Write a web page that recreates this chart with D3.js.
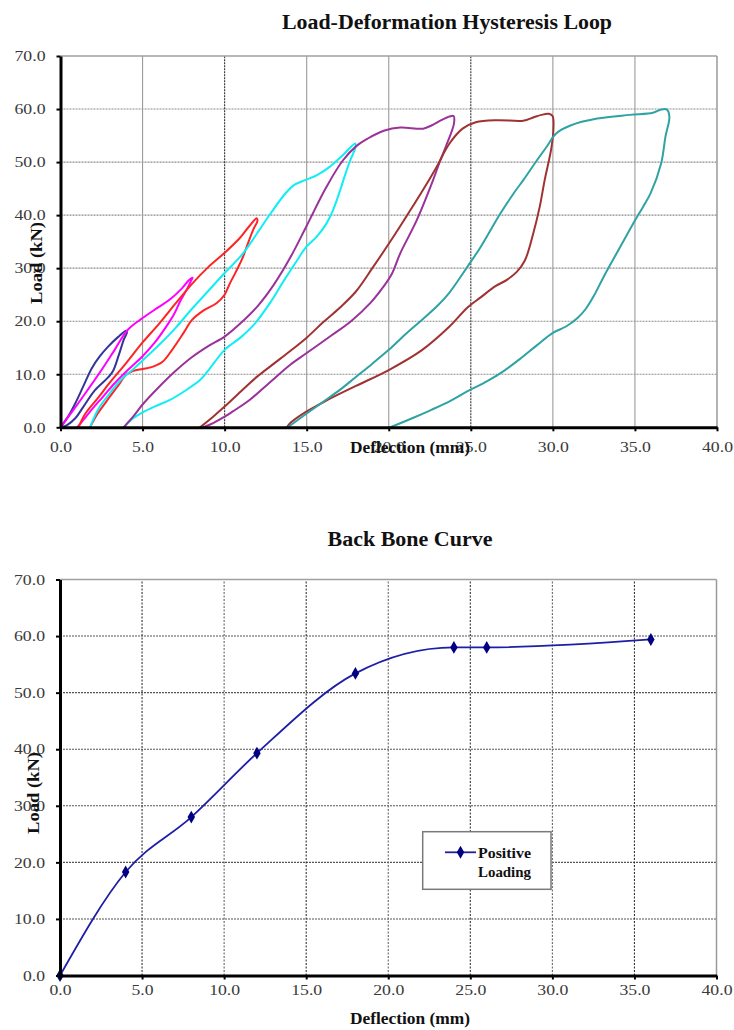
<!DOCTYPE html>
<html>
<head>
<meta charset="utf-8">
<script src="https://cdn.jsdelivr.net/npm/d3@7"></script>
<style>
  html, body { margin: 0; padding: 0; background: #ffffff; }
  svg { display: block; }
</style>
</head>
<body>
<script>
// ---------------- DATA ----------------
const xTicks = [0, 5, 10, 15, 20, 25, 30, 35, 40];
const yTicks = [0, 10, 20, 30, 40, 50, 60, 70];

const titleTop = "Load-Deformation Hysteresis Loop";
const titleBottom = "Back Bone Curve";
const xLabel = "Deflection (mm)";
const yLabel = "Load (kN)";
const legendLines = ["Positive", "Loading"];

// Hysteresis cycles: [deflection mm, load kN], loading branch then unloading branch
const cycle1 = [[0,0],[0.5,2.2],[0.9,4.5],[1.4,7.8],[1.9,11.1],[2.4,13.4],[2.9,15.2],[3.5,17.0],[4.0,18.2],
  [4.05,17.9],[3.85,16.5],[3.55,13.6],[3.2,10.6],[2.9,9.4],[2.1,7.0],[1.4,3.9],[0.9,1.7],[0.4,0.4],[0.05,0]];
const cycle2 = [[0,0],[0.7,2.9],[1.6,6.8],[2.5,10.8],[3.3,14.6],[4.1,18.4],[5.0,20.6],[6.0,22.7],[6.7,24.2],[7.4,26.2],[7.85,27.8],[8.05,28.2],
  [7.95,27.6],[7.7,26.0],[7.3,23.8],[6.9,21.2],[6.4,18.8],[5.8,16.2],[5.0,13.4],[4.1,10.8],[3.3,8.3],[2.6,5.8],[2.0,3.7],[1.5,1.8],[1.1,0.3],[1.0,0]];
const cycle3 = [[1.1,0],[1.5,2.5],[2.3,5.6],[3.0,8.4],[4.0,12.1],[5.0,16.0],[6.0,19.5],[7.0,23.3],[8.0,27.0],[9.0,30.2],[10.0,32.9],[10.9,35.6],[11.5,37.9],[11.95,39.4],
  [12.0,38.9],[11.75,37.3],[11.4,34.5],[11.1,32.0],[10.7,29.4],[10.3,27.0],[10.0,25.0],[9.5,23.4],[8.7,22.0],[8.0,20.2],[7.5,17.8],[6.8,14.6],[6.2,12.3],[5.5,11.3],[5.0,11.0],[4.4,10.6],[4.0,9.9],[3.5,7.8],[2.8,4.9],[2.2,2.3],[1.9,0.6],[1.8,0]];
const cycle4 = [[1.8,0],[2.3,3.4],[3.0,6.4],[3.7,9.0],[4.3,10.6],[5.0,12.6],[6.0,15.5],[7.0,18.7],[8.0,22.3],[9.0,25.7],[10.0,29.1],[11.0,32.3],[11.55,34.6],[12.2,37.6],[12.8,40.3],[13.6,43.7],[14.2,45.6],[14.9,46.6],[15.6,47.5],[16.4,49.1],[17.2,51.3],[17.96,53.5],
  [17.95,52.6],[17.65,50.3],[17.3,47.2],[17.04,44.7],[16.6,40.9],[16.2,38.4],[15.6,35.9],[14.97,34.0],[14.4,31.4],[13.6,27.6],[12.8,23.6],[11.8,19.4],[11.0,17.0],[10.0,14.6],[9.0,10.7],[8.5,8.9],[7.5,6.7],[6.7,5.2],[5.8,4.0],[5.0,2.8],[4.3,1.4],[3.85,0]];
const cycle5 = [[3.85,0],[4.5,2.3],[5.0,4.3],[6.0,7.6],[7.0,10.6],[8.0,13.2],[9.0,15.3],[10.0,17.1],[11.0,19.7],[12.0,22.8],[13.0,26.9],[14.0,32.0],[15.0,38.0],[16.2,45.3],[17.2,50.3],[18.06,53.1],[18.7,54.4],[19.7,55.9],[20.7,56.5],[21.7,56.3],[22.1,56.3],[22.6,56.9],[23.2,57.9],[23.7,58.6],[23.95,58.7],
  [23.97,57.2],[23.55,53.5],[23.1,50.0],[22.7,46.6],[21.7,39.0],[20.7,32.8],[20.2,29.0],[19.7,26.6],[18.9,23.5],[17.7,20.0],[16.5,17.3],[15.0,14.0],[14.0,11.8],[12.8,8.6],[11.5,5.1],[10.5,3.0],[10.0,2.0],[9.3,0.8],[8.7,0]];
const cycle6 = [[8.5,0],[9.3,2.0],[10.0,3.9],[11.0,6.8],[12.0,9.6],[13.0,12.0],[14.0,14.4],[15.0,16.9],[16.0,19.8],[17.0,22.5],[18.0,25.6],[19.0,30.0],[20.0,34.6],[20.9,38.9],[22.0,44.3],[22.9,49.0],[23.7,53.5],[24.5,56.3],[25.3,57.5],[26.6,57.9],[28.2,57.8],[28.8,58.4],[29.3,58.9],[29.75,59.1],[29.98,58.7],
  [30.03,56.0],[29.9,52.5],[29.5,46.6],[29.2,41.6],[28.8,36.5],[28.3,31.5],[27.8,29.3],[27.2,27.8],[26.5,26.6],[25.6,24.5],[24.8,22.6],[23.7,19.0],[22.0,14.5],[20.0,10.8],[18.0,7.8],[16.3,5.2],[15.0,3.0],[14.0,0.8],[13.8,0]];
const cycle7 = [[13.85,0],[15.0,2.6],[16.0,4.8],[17.0,7.0],[18.0,9.5],[19.0,12.0],[20.0,14.6],[21.0,17.5],[22.0,20.2],[23.0,23.0],[23.7,25.4],[24.8,30.3],[25.6,34.0],[26.8,40.3],[27.7,44.5],[28.2,46.6],[29.0,50.2],[29.6,52.8],[30.2,55.4],[31.07,56.9],[32.7,58.2],[34.7,58.9],[36.1,59.3],[36.6,59.9],[36.95,59.9],
  [37.1,58.5],[36.86,54.8],[36.6,49.8],[35.95,44.1],[35.5,41.6],[35.0,39.0],[34.1,34.0],[33.1,28.4],[32.5,24.8],[32.0,22.3],[31.5,20.6],[30.8,19.0],[30.0,17.8],[29.0,15.4],[28.0,12.9],[27.0,10.6],[26.0,8.7],[24.8,6.8],[23.7,4.9],[22.6,3.3],[21.5,1.8],[20.1,0]];

const cycles = [cycle1, cycle2, cycle3, cycle4, cycle5, cycle6, cycle7];
const cycleColors = ["#34349a", "#ff00ff", "#ff2424", "#10eef4", "#993399", "#a03232", "#2fa3a3"];

// Back bone curve
const bbDeflection = [0, 4, 8, 12, 18, 24, 26, 36];
const bbLoad = [0, 18.3, 28.0, 39.3, 53.4, 58.0, 58.0, 59.4];

// ---------------- DRAW ----------------
const svg = d3.select("body").append("svg").attr("width", 734).attr("height", 1030);
const serif = "'Liberation Serif', 'Times New Roman', serif";
const fmt = d => d.toFixed(1);

function panel(cfg) {
  const x = d3.scaleLinear().domain([0, 40]).range([cfg.x0, cfg.x1]);
  const y = d3.scaleLinear().domain([0, 70]).range([cfg.y0, cfg.y1]);
  const g = svg.append("g");

  // horizontal gridlines
  g.append("g").selectAll("line").data(yTicks.filter(t => t > 0 && t < 70)).join("line")
    .attr("x1", x(0)).attr("x2", x(40)).attr("y1", d => y(d)).attr("y2", d => y(d))
    .attr("stroke", cfg.hGridColor).attr("stroke-width", 1.1).attr("stroke-dasharray", "2,1");
  // vertical gridlines
  g.append("g").selectAll("line").data(xTicks.filter(t => t > 0 && t < 40)).join("line")
    .attr("x1", d => x(d)).attr("x2", d => x(d)).attr("y1", y(0)).attr("y2", y(70))
    .attr("stroke", d => cfg.vGridColor(d)).attr("stroke-width", 1.1)
    .attr("stroke-dasharray", d => cfg.vGridDash(d));
  // top & right border
  g.append("line").attr("x1", x(0)).attr("x2", x(40)).attr("y1", y(70)).attr("y2", y(70))
    .attr("stroke", "#a0a0a0").attr("stroke-width", 1.5);
  g.append("line").attr("x1", x(40)).attr("x2", x(40)).attr("y1", y(0)).attr("y2", y(70))
    .attr("stroke", "#9a9a9a").attr("stroke-width", 1.5);

  const content = g.append("g");

  // axes
  const ax = g.append("g").attr("transform", `translate(0,${y(0)})`)
    .call(d3.axisBottom(x).tickValues(xTicks).tickFormat(fmt).tickSize(4).tickSizeOuter(0));
  const ay = g.append("g").attr("transform", `translate(${x(0)},0)`)
    .call(d3.axisLeft(y).tickValues(yTicks).tickFormat(fmt).tickSize(4).tickSizeOuter(0));
  [ax, ay].forEach(a => {
    a.select(".domain").attr("stroke", "#000").attr("stroke-width", 3);
    a.selectAll(".tick line").attr("stroke", "#000").attr("stroke-width", 2);
    a.selectAll(".tick text")
      .attr("font-family", serif).attr("font-size", 14).attr("fill", "#3a3a3a")
      .attr("textLength", function () { return this.textContent.length > 3 ? 31 : 22; })
      .attr("lengthAdjust", "spacingAndGlyphs");
  });
  ax.selectAll(".tick text").attr("y", cfg.xLabelOffset).attr("dy", 0);
  ay.selectAll(".tick text").attr("x", -15).attr("dy", "0.34em");

  // titles
  g.append("text").attr("x", cfg.titleX).attr("y", cfg.titleY).attr("text-anchor", "middle")
    .attr("font-family", serif).attr("font-weight", "bold").attr("font-size", 20).attr("fill", "#111")
    .attr("textLength", cfg.titleLen).attr("lengthAdjust", "spacingAndGlyphs").text(cfg.title);
  g.append("text").attr("x", 410).attr("y", cfg.xTitleY).attr("text-anchor", "middle")
    .attr("font-family", serif).attr("font-weight", "bold").attr("font-size", cfg.xTitleSize).attr("fill", "#111")
    .attr("textLength", 120).attr("lengthAdjust", "spacingAndGlyphs").text(xLabel);
  g.append("text").attr("transform", `translate(${cfg.yTitleX},${cfg.yTitleY}) rotate(-90)`)
    .attr("text-anchor", "middle").attr("dy", "0.35em")
    .attr("font-family", serif).attr("font-weight", "bold").attr("font-size", 16).attr("fill", "#111")
    .attr("textLength", 82).attr("lengthAdjust", "spacingAndGlyphs").text(yLabel);

  return { x, y, content, g };
}

// ---- top: hysteresis loops ----
const hystPanel = panel({
  x0: 60.5, x1: 717, y0: 427.3, y1: 56,
  hGridColor: "#8c8c8c",
  vGridColor: d => (d === 10 || d === 25) ? "#333" : "#9a9a9a",
  vGridDash: d => (d === 10 || d === 25) ? "2,1" : null,
  xLabelOffset: 24.4,
  title: titleTop, titleX: 447, titleY: 28.5, titleLen: 330,
  xTitleY: 453, xTitleSize: 16,
  yTitleX: 36, yTitleY: 263
});
const loopLine = d3.line().x(d => hystPanel.x(d[0])).y(d => hystPanel.y(d[1]))
  .curve(d3.curveCatmullRom.alpha(0.5));
hystPanel.content.selectAll("path").data(cycles).join("path")
  .attr("d", d => loopLine(d)).attr("fill", "none")
  .attr("stroke", (d, i) => cycleColors[i]).attr("stroke-width", 2)
  .attr("stroke-linejoin", "round").attr("stroke-linecap", "round");

// ---- bottom: back bone curve ----
const bbPanel = panel({
  x0: 60, x1: 716.5, y0: 975.5, y1: 579.5,
  hGridColor: "#555",
  vGridColor: d => (d % 10 === 5) ? "#333" : "#666",
  vGridDash: d => "2,1.5",
  xLabelOffset: 19.5,
  title: titleBottom, titleX: 410, titleY: 546, titleLen: 165,
  xTitleY: 1024, xTitleSize: 17,
  yTitleX: 33, yTitleY: 793
});
const bbPts = bbDeflection.map((d, i) => [d, bbLoad[i]]);
const bbLine = d3.line().x(d => bbPanel.x(d[0])).y(d => bbPanel.y(d[1])).curve(d3.curveMonotoneX);
bbPanel.content.append("path").attr("d", bbLine(bbPts)).attr("fill", "none")
  .attr("stroke", "#1e1ea6").attr("stroke-width", 1.8);
const diamond = d3.symbol().type(d3.symbolDiamond).size(48);
bbPanel.content.selectAll("path.mk").data(bbPts).join("path").attr("class", "mk")
  .attr("transform", d => `translate(${bbPanel.x(d[0])},${bbPanel.y(d[1])})`)
  .attr("d", diamond).attr("fill", "#000080");

// legend
const lg = bbPanel.g.append("g");
lg.append("rect").attr("x", 422.7).attr("y", 831.7).attr("width", 128.3).attr("height", 57.6)
  .attr("fill", "#fff").attr("stroke", "#7a7a7a").attr("stroke-width", 1.5);
lg.append("line").attr("x1", 445).attr("x2", 476).attr("y1", 852.3).attr("y2", 852.3)
  .attr("stroke", "#1e1ea6").attr("stroke-width", 1.8);
lg.append("path").attr("transform", "translate(460.5,852.3)").attr("d", diamond).attr("fill", "#000080");
lg.selectAll("text").data(legendLines).join("text")
  .attr("x", 478).attr("y", (d, i) => 858 + i * 18.7)
  .attr("font-family", serif).attr("font-weight", "bold").attr("font-size", 14).attr("fill", "#111")
  .attr("textLength", 53).attr("lengthAdjust", "spacingAndGlyphs").text(d => d);
</script>
</body>
</html>
